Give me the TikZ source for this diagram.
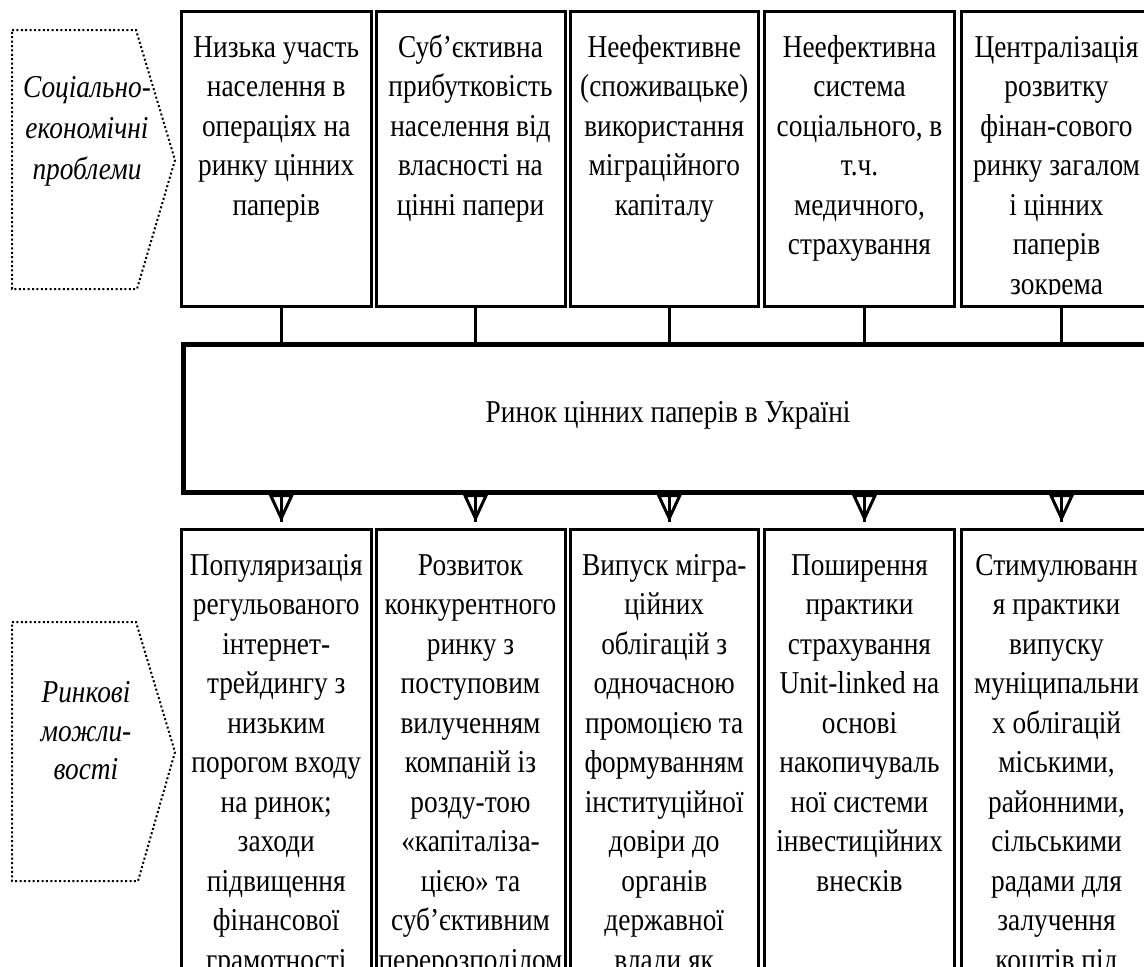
\documentclass[tikz,border=0pt]{standalone}
\usepackage{fontspec}
\setmainfont{Liberation Serif}[FakeStretch=0.86]
\usetikzlibrary{arrows.meta,calc}
\tikzset{
 box/.style={draw, line width=1.5pt, rectangle, inner sep=0pt, anchor=north west, minimum height=147.5pt},
 lowbox/.style={draw, line width=1.5pt, rectangle, inner sep=0pt, anchor=north west, minimum height=240pt},
 mainbox/.style={draw, line width=2.6pt, rectangle, inner sep=0pt, anchor=north west, minimum width=484.5pt, minimum height=74pt},
 txt/.style={anchor=north, align=center, inner sep=0pt, font=\fontsize{15.9pt}{19.75pt}\selectfont},
 lbl/.style={align=center, inner sep=0pt, font=\itshape\fontsize{15.9pt}{20.5pt}\selectfont},
 lbltwo/.style={align=center, inner sep=0pt, font=\itshape\fontsize{15.9pt}{19.3pt}\selectfont},
 maintxt/.style={inner sep=0pt, font=\fontsize{15.9pt}{19.75pt}\selectfont},
 stub/.style={line width=1.5pt},
 arr/.style={line width=1.5pt, -{Triangle[open, length=14pt, width=12.5pt]}, shorten >=3pt},
 dotb/.style={line width=1pt, dash pattern=on 1pt off 1.2pt},
}
\newcommand{\fl}{\rule{0pt}{13pt}}
\begin{document}
\begin{tikzpicture}[x=0.5pt,y=-0.5pt]
\useasboundingbox (0,0) rectangle (1144,966);
\clip (0,0) rectangle (1144,966);

% left dotted labels
\draw[dotb] (12,30) -- (136,30) -- (175,160) -- (137,289) -- (12,289) -- cycle;
\node[lbl] (l1) at (87,131) {Соціально-\\економічні\\проблеми};
\draw[dotb] (12,622) -- (136,622) -- (175,752) -- (138,881) -- (12,881) -- cycle;
\node[lbltwo] (l2) at (86,731) {Ринкові\\можли-\\вості};

% top boxes
\node[box, minimum width=94.75pt] (t1) at (180,10) {};
\node[box, minimum width=94.5pt] (t2) at (374.5,10) {};
\node[box, minimum width=94.25pt] (t3) at (568.5,10) {};
\node[box, minimum width=95pt] (t4) at (763,10) {};
\node[box, minimum width=95pt] (t5) at (960,10) {};

\node[txt] (t1x) at ([yshift=-10.5pt]t1.north) {\fl Низька участь\\населення в\\операціях на\\ринку цінних\\паперів};
\node[txt] (t2x) at ([yshift=-10.5pt]t2.north) {\fl Суб’єктивна\\прибутковість\\населення від\\власності на\\цінні папери};
\node[txt] (t3x) at ([yshift=-10.5pt]t3.north) {\fl Неефективне\\(споживацьке)\\використання\\міграційного\\капіталу};
\node[txt] (t4x) at ([yshift=-10.5pt]t4.north) {\fl Неефективна\\система\\соціального, в\\т.ч.\\медичного,\\страхування};
\begin{scope}
\clip (t5.north west) rectangle ([yshift=7pt]t5.south east);
\node[txt] (t5x) at ([yshift=-10.5pt]t5.north) {\fl Централізація\\розвитку\\фінан-сового\\ринку загалом\\і цінних\\паперів\\зокрема};
\end{scope}

% main box
\node[mainbox] (m) at (181,342) {};
\node[maintxt] (mx) at ([yshift=1.5pt]m.center) {Ринок цінних паперів в Україні};

% bottom boxes
\node[lowbox, minimum width=94.75pt] (b1) at (180,528) {};
\node[lowbox, minimum width=94.5pt] (b2) at (374.5,528) {};
\node[lowbox, minimum width=94.25pt] (b3) at (568.5,528) {};
\node[lowbox, minimum width=95pt] (b4) at (763,528) {};
\node[lowbox, minimum width=95pt] (b5) at (960,528) {};

\node[txt] (b1x) at ([yshift=-10.5pt]b1.north) {\fl Популяризація\\регульованого\\інтернет-\\трейдингу з\\низьким\\порогом входу\\на ринок;\\заходи\\підвищення\\фінансової\\грамотності};
\node[txt] (b2x) at ([yshift=-10.5pt]b2.north) {\fl Розвиток\\конкурентного\\ринку з\\поступовим\\вилученням\\компаній із\\розду-тою\\«капіталіза-\\цією» та\\суб’єктивним\\перерозподілом};
\node[txt] (b3x) at ([yshift=-10.5pt]b3.north) {\fl Випуск мігра-\\ційних\\облігацій з\\одночасною\\промоцією та\\формуванням\\інституційної\\довіри до\\органів\\державної\\влади як};
\node[txt] (b4x) at ([yshift=-10.5pt]b4.north) {\fl Поширення\\практики\\страхування\\Unit-linked на\\основі\\накопичуваль\\ної системи\\інвестиційних\\внесків};
\node[txt] (b5x) at ([yshift=-10.5pt]b5.north) {\fl Стимулюванн\\я практики\\випуску\\муніципальни\\х облігацій\\міськими,\\районними,\\сільськими\\радами для\\залучення\\коштів під};

% connectors
\foreach \t in {t1,t2,t3,t4,t5}
  \draw[stub] ([xshift=2.5pt]\t.south) -- ([xshift=2.5pt]\t.south |- m.north);
\foreach \b in {b1,b2,b3,b4,b5}{
  \draw[stub, shorten >=3pt] ([xshift=2.5pt]\b.north |- m.south) -- ([xshift=2.5pt]\b.north);
  \draw[arr] ([xshift=2.5pt]\b.north |- m.south) -- ([xshift=2.5pt]\b.north);
}
\end{tikzpicture}
\end{document}
